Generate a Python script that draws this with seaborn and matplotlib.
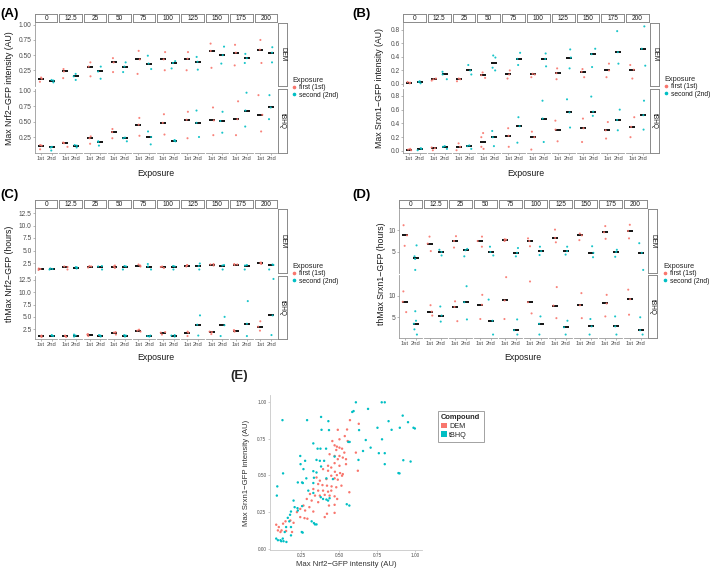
import numpy as np
import pandas as pd
import matplotlib
matplotlib.use("Agg")
import matplotlib.pyplot as plt
import seaborn as sns
from matplotlib.lines import Line2D
from matplotlib.patches import Patch

sns.set_theme(style="white")
plt.rcParams['font.family'] = ['Liberation Sans', 'DejaVu Sans']
np.random.seed(3)

concentrations = ["0", "12.5", "25", "50", "75", "100", "125", "150", "175", "200"]
compounds = ["DEM", "tBHQ"]
exposures = ["1st", "2nd"]
exposure_labels = ["first (1st)", "second (2nd)"]

# ---- Panel A: Max Nrf2-GFP intensity (AU) ----
A_DEM_1st = [[0.13, 0.11, 0.06], [0.27, 0.23, 0.12], [0.38, 0.31, 0.15], [0.45, 0.38, 0.22], [0.57, 0.43, 0.19],
             [0.55, 0.43, 0.25], [0.55, 0.44, 0.25], [0.69, 0.57, 0.29], [0.67, 0.54, 0.33], [0.75, 0.59, 0.37]]
A_DEM_2nd = [[0.09, 0.08, 0.05], [0.19, 0.15, 0.09], [0.31, 0.23, 0.11], [0.38, 0.31, 0.22], [0.49, 0.36, 0.27],
             [0.40, 0.37, 0.28], [0.47, 0.39, 0.26], [0.64, 0.50, 0.36], [0.52, 0.45, 0.37], [0.63, 0.54, 0.38]]
A_tBHQ_1st = [[0.12, 0.11, 0.05], [0.16, 0.15, 0.09], [0.26, 0.23, 0.14], [0.38, 0.33, 0.23], [0.56, 0.45, 0.27],
              [0.62, 0.48, 0.29], [0.66, 0.53, 0.23], [0.73, 0.52, 0.28], [0.83, 0.54, 0.28], [0.93, 0.61, 0.34]]
A_tBHQ_2nd = [[0.09, 0.08, 0.03], [0.12, 0.11, 0.08], [0.18, 0.17, 0.11], [0.24, 0.23, 0.18], [0.34, 0.25, 0.13],
              [0.20, 0.19, 0.18], [0.68, 0.48, 0.25], [0.66, 0.51, 0.32], [0.97, 0.68, 0.42], [0.93, 0.73, 0.54]]

# ---- Panel B: Max Srxn1-GFP intensity (AU) ----
B_DEM_1st = [[0.03, 0.02, 0.01], [0.08, 0.07, 0.05], [0.08, 0.07, 0.04], [0.17, 0.13, 0.09], [0.20, 0.14, 0.08],
             [0.15, 0.14, 0.10], [0.23, 0.16, 0.07], [0.22, 0.18, 0.10], [0.30, 0.20, 0.10], [0.28, 0.21, 0.08]]
B_DEM_2nd = [[0.04, 0.03, 0.01], [0.18, 0.14, 0.07], [0.28, 0.20, 0.14], [0.42, 0.39, 0.24, 0.20], [0.46, 0.37, 0.28],
             [0.45, 0.37, 0.26], [0.51, 0.39, 0.23], [0.52, 0.44, 0.25], [0.78, 0.47, 0.30], [0.85, 0.52, 0.27]]
B_tBHQ_1st = [[0.03, 0.02, 0.01], [0.05, 0.04, 0.01], [0.11, 0.06, 0.01], [0.26, 0.20, 0.06, 0.03], [0.33, 0.22, 0.06],
              [0.28, 0.20, 0.02], [0.44, 0.31, 0.14], [0.47, 0.33, 0.13], [0.42, 0.30, 0.18], [0.49, 0.35, 0.20]]
B_tBHQ_2nd = [[0.04, 0.03, 0.01], [0.07, 0.06, 0.03], [0.08, 0.07, 0.03], [0.29, 0.20, 0.07], [0.49, 0.36, 0.12],
              [0.73, 0.47, 0.13], [0.75, 0.56, 0.34], [0.79, 0.57, 0.51], [0.60, 0.45, 0.30], [0.73, 0.52, 0.31]]

# ---- Panel C: thMax Nrf2-GFP (hours) ----
C_DEM_1st = [[1.4, 1.3, 1.1], [1.8, 1.7, 1.2], [1.9, 1.8, 1.6], [2.0, 1.8, 1.5], [2.2, 2.0, 1.8],
             [1.8, 1.7, 1.5], [2.1, 2.0, 1.8], [2.3, 2.2, 2.0], [2.3, 2.2, 2.1], [2.6, 2.5, 2.3]]
C_DEM_2nd = [[1.4, 1.3, 1.2], [1.7, 1.6, 1.4], [1.9, 1.8, 1.2], [1.9, 1.8, 1.2], [2.3, 1.8, 1.2],
             [1.9, 1.8, 1.2], [2.4, 1.9, 1.2], [2.1, 2.0, 1.2], [2.1, 2.0, 1.2], [2.2, 2.1, 1.2]]
C_tBHQ_1st = [[1.2, 1.1, 0.9], [1.2, 1.1, 0.9], [1.5, 1.4, 1.1], [1.9, 1.8, 1.4], [2.4, 2.2, 2.0],
              [1.9, 1.8, 1.4], [2.0, 1.8, 1.1], [2.0, 1.9, 1.5], [2.3, 2.2, 2.0], [4.1, 3.0, 2.2]]
C_tBHQ_2nd = [[1.3, 1.2, 1.1], [1.4, 1.2, 1.0], [1.3, 1.2, 1.0], [1.3, 1.2, 1.0], [1.2, 1.1, 1.0],
              [1.3, 1.2, 1.0], [5.3, 3.4, 1.2], [5.0, 3.3, 1.1], [8.2, 3.6, 1.1], [12.7, 5.3, 1.3]]

# ---- Panel D: thMax Srxn1-GFP (hours) ----
D_DEM_1st = [[11.1, 8.8, 6.4], [8.5, 6.9, 5.2], [8.6, 7.5, 6.0], [8.5, 7.5, 6.2], [7.9, 7.8, 7.5],
             [8.1, 7.5, 6.3], [10.1, 8.2, 7.2], [9.2, 8.8, 7.7], [10.9, 9.5, 8.0], [11.2, 9.8, 8.1]]
D_DEM_2nd = [[6.5, 4.0, 3.4, 0.9], [5.5, 5.0, 4.2], [5.7, 5.4, 4.0], [6.2, 5.0, 4.2], [5.9, 4.8, 4.0],
             [6.2, 5.2, 4.3], [6.2, 5.2, 4.4], [6.3, 4.8, 3.8], [5.5, 5.0, 3.9], [7.0, 4.8, 0.9]]
D_tBHQ_1st = [[11.0, 8.6, 6.2], [7.8, 6.3, 5.4], [8.7, 7.4, 4.1], [10.2, 7.9, 4.6], [14.3, 8.9, 4.6],
              [13.3, 8.5, 5.9], [12.0, 7.7, 4.8], [10.6, 7.8, 4.8], [10.2, 8.2, 5.2], [11.4, 9.2, 5.6]]
D_tBHQ_2nd = [[6.4, 4.2, 3.5, 2.2, 1.0], [7.5, 5.4, 4.0], [12.2, 8.5, 4.5], [9.1, 4.2, 1.0], [4.5, 2.0, 1.0],
              [5.2, 3.5, 1.0], [4.2, 2.7, 1.0], [4.6, 2.9, 1.0], [5.2, 2.9, 1.0], [5.0, 2.0, 1.0]]

# ---- Panel E: Max Nrf2 vs Max Srxn1 ----
E_DEM_nrf2 = [0.571, 0.629, 0.552, 0.491, 0.537, 0.502, 0.556, 0.455, 0.47, 0.485, 0.502, 0.519, 0.481, 0.534, 0.61,
              0.437, 0.47, 0.502, 0.524, 0.491, 0.545, 0.47, 0.427, 0.448, 0.502, 0.545, 0.394, 0.427, 0.472, 0.506,
              0.524, 0.623, 0.448, 0.485, 0.519, 0.351, 0.373, 0.416, 0.47, 0.491, 0.362, 0.39, 0.42, 0.45, 0.515,
              0.481, 0.33, 0.362, 0.394, 0.427, 0.448, 0.567, 0.308, 0.341, 0.373, 0.405, 0.437, 0.47, 0.487, 0.287,
              0.319, 0.362, 0.433, 0.47, 0.265, 0.304, 0.244, 0.276, 0.33, 0.42, 0.47, 0.222, 0.244, 0.272, 0.291,
              0.405, 0.179, 0.147, 0.20, 0.131, 0.103, 0.121, 0.086, 0.097, 0.114, 0.19, 0.151]
E_DEM_srxn1 = [0.878, 0.853, 0.814, 0.812, 0.769, 0.747, 0.735, 0.735, 0.706, 0.697, 0.69, 0.683, 0.674, 0.656, 0.656,
               0.645, 0.633, 0.633, 0.622, 0.611, 0.611, 0.584, 0.566, 0.554, 0.566, 0.577, 0.543, 0.532, 0.525, 0.516,
               0.509, 0.532, 0.498, 0.502, 0.498, 0.486, 0.464, 0.475, 0.48, 0.471, 0.441, 0.434, 0.43, 0.425, 0.43,
               0.419, 0.407, 0.396, 0.396, 0.389, 0.396, 0.385, 0.373, 0.362, 0.362, 0.367, 0.362, 0.357, 0.339, 0.339,
               0.328, 0.317, 0.294, 0.299, 0.294, 0.283, 0.271, 0.26, 0.253, 0.238, 0.244, 0.249, 0.215, 0.208, 0.204,
               0.215, 0.192, 0.186, 0.176, 0.17, 0.147, 0.124, 0.163, 0.124, 0.113, 0.113, 0.12]
E_tBHQ_nrf2 = [0.61, 0.78, 0.80, 0.69, 0.595, 0.586, 0.127, 0.289, 0.381, 0.429, 0.918, 0.953, 0.825, 0.752, 0.899,
               0.989, 0.998, 0.384, 0.433, 0.631, 0.845, 0.675, 0.782, 0.33, 0.56, 0.569, 0.358, 0.377, 0.414, 0.707,
               0.657, 0.761, 0.80, 0.244, 0.276, 0.351, 0.373, 0.401, 0.47, 0.627, 0.80, 0.922, 0.97, 0.246, 0.265,
               0.33, 0.351, 0.381, 0.334, 0.131, 0.228, 0.256, 0.284, 0.416, 0.459, 0.89, 0.897, 0.093, 0.261, 0.33,
               0.297, 0.33, 0.379, 0.394, 0.416, 0.427, 0.437, 0.09, 0.20, 0.207, 0.226, 0.228, 0.256, 0.55, 0.567,
               0.183, 0.177, 0.162, 0.172, 0.319, 0.334, 0.341, 0.351, 0.151, 0.183, 0.142, 0.254, 0.26, 0.183, 0.086,
               0.097, 0.114, 0.129, 0.153, 0.134, 0.119]
E_tBHQ_srxn1 = [1.00, 1.00, 1.00, 0.955, 0.94, 0.934, 0.878, 0.878, 0.90, 0.871, 0.909, 0.864, 0.871, 0.826, 0.826,
                0.826, 0.821, 0.812, 0.81, 0.81, 0.812, 0.742, 0.747, 0.719, 0.729, 0.729, 0.683, 0.683, 0.683, 0.69,
                0.667, 0.652, 0.652, 0.633, 0.60, 0.606, 0.60, 0.60, 0.629, 0.606, 0.577, 0.604, 0.595, 0.577, 0.543,
                0.529, 0.52, 0.561, 0.484, 0.514, 0.452, 0.452, 0.48, 0.48, 0.475, 0.516, 0.514, 0.425, 0.448, 0.448,
                0.396, 0.38, 0.351, 0.339, 0.335, 0.328, 0.344, 0.362, 0.328, 0.283, 0.276, 0.26, 0.29, 0.303, 0.294,
                0.253, 0.231, 0.21, 0.186, 0.186, 0.174, 0.165, 0.165, 0.147, 0.147, 0.113, 0.113, 0.109, 0.09, 0.068,
                0.057, 0.057, 0.068, 0.045, 0.05, 0.05]

RED = "#F8766D"
TEAL = "#00BFC4"
exp_palette = {"1st": RED, "2nd": TEAL}
comp_palette = {"DEM": RED, "tBHQ": TEAL}
LINE_COL = "#9a9a9a"
TXT_COL = "#4d4d4d"

W, H = 720, 571
fig = plt.figure(figsize=(W / 100, H / 100), dpi=100)
fig.patch.set_facecolor("white")


def rect(x0, y0, x1, y1):
    return [x0 / W, 1 - y1 / H, (x1 - x0) / W, (y1 - y0) / H]


def long_df(groups):
    rows = []
    for (comp, exp), series in groups.items():
        for conc, vals in zip(concentrations, series):
            for v in vals:
                rows.append((conc, comp, exp, v))
    return pd.DataFrame(rows, columns=["conc", "compound", "exposure", "value"])


def strip_box(x0, y0, x1, y1, text, rot=0):
    ax = fig.add_axes(rect(x0, y0, x1, y1))
    ax.set_xticks([])
    ax.set_yticks([])
    ax.set_facecolor("white")
    for s in ax.spines.values():
        s.set_color("#8a8a8a")
        s.set_linewidth(0.7)
    ax.text(0.5, 0.5, text, ha="center", va="center", rotation=rot, fontsize=4.7,
            color="#1a1a1a", transform=ax.transAxes)


def facet_panel(df, x0, x1, rows, strip_y, ylim, yticks, yticklabels, ylabel, ylabel_x,
                xlabel_y, legend_xy, letter, letter_xy):
    n = len(concentrations)
    gap = 2.0
    fw = (x1 - x0 - gap * (n - 1)) / n
    for r, comp in enumerate(compounds):
        ty, by = rows[r]
        for c, conc in enumerate(concentrations):
            fx0 = x0 + c * (fw + gap)
            ax = fig.add_axes(rect(fx0, ty, fx0 + fw, by))
            sub = df[(df.compound == comp) & (df.conc == conc)]
            sns.stripplot(data=sub, x="exposure", y="value", hue="exposure", order=exposures,
                          hue_order=exposures, palette=exp_palette, size=1.5, jitter=0.22,
                          linewidth=0, alpha=0.9, legend=False, ax=ax)
            sns.pointplot(data=sub, x="exposure", y="value", order=exposures, estimator="median",
                          errorbar=None, color="black", marker="_", markersize=5,
                          markeredgewidth=1.3, linestyle="none", ax=ax)
            ax.set_xlim(-0.55, 1.55)
            ax.set_ylim(*ylim)
            ax.set_xlabel("")
            ax.set_ylabel("")
            ax.set_facecolor("white")
            for side in ["top", "right"]:
                ax.spines[side].set_visible(False)
            ax.spines["left"].set_visible(c == 0)
            ax.spines["bottom"].set_visible(r == 1)
            for side in ["left", "bottom"]:
                ax.spines[side].set_color(LINE_COL)
                ax.spines[side].set_linewidth(0.6)
            if c == 0:
                ax.set_yticks(yticks)
                ax.set_yticklabels(yticklabels)
                ax.tick_params(axis="y", length=1.5, width=0.5, pad=1, labelsize=4.8,
                               colors=LINE_COL, labelcolor=TXT_COL, left=True)
            else:
                ax.set_yticks([])
            if r == 1:
                ax.set_xticks([0, 1])
                ax.set_xticklabels(exposures)
                ax.tick_params(axis="x", length=1.5, width=0.5, pad=1, labelsize=4.2,
                               colors=LINE_COL, labelcolor=TXT_COL, bottom=True)
            else:
                ax.set_xticks([])
            if r == 0:
                strip_box(fx0, strip_y[0], fx0 + fw, strip_y[1], conc)
        strip_box(x1 + 1, ty, x1 + 10, by, comp, rot=-90)

    ymid = (rows[0][0] + rows[1][1]) / 2
    fig.text(ylabel_x / W, 1 - ymid / H, ylabel, rotation=90, ha="center", va="center",
             fontsize=6.3, color="#1a1a1a")
    fig.text(((x0 + x1) / 2) / W, 1 - xlabel_y / H, "Exposure", ha="center", va="center",
             fontsize=6.3, color="#1a1a1a")
    fig.text(letter_xy[0] / W, 1 - letter_xy[1] / H, letter, ha="left", va="center",
             fontsize=9.5, fontweight="bold", color="black")
    handles = [Line2D([], [], marker="o", linestyle="", markersize=1.6, color=exp_palette[e],
                      label=lab) for e, lab in zip(exposures, exposure_labels)]
    leg = fig.legend(handles=handles, title="Exposure", loc="upper left",
                     bbox_to_anchor=(legend_xy[0] / W, 1 - legend_xy[1] / H), frameon=False,
                     fontsize=4.9, title_fontsize=5.3, handlelength=0.5, handletextpad=0.5,
                     labelspacing=0.05, borderpad=0, borderaxespad=0, alignment="left")
    for t in leg.get_texts():
        t.set_color("#1a1a1a")


dfA = long_df({("DEM", "1st"): A_DEM_1st, ("DEM", "2nd"): A_DEM_2nd,
               ("tBHQ", "1st"): A_tBHQ_1st, ("tBHQ", "2nd"): A_tBHQ_2nd})
dfB = long_df({("DEM", "1st"): B_DEM_1st, ("DEM", "2nd"): B_DEM_2nd,
               ("tBHQ", "1st"): B_tBHQ_1st, ("tBHQ", "2nd"): B_tBHQ_2nd})
dfC = long_df({("DEM", "1st"): C_DEM_1st, ("DEM", "2nd"): C_DEM_2nd,
               ("tBHQ", "1st"): C_tBHQ_1st, ("tBHQ", "2nd"): C_tBHQ_2nd})
dfD = long_df({("DEM", "1st"): D_DEM_1st, ("DEM", "2nd"): D_DEM_2nd,
               ("tBHQ", "1st"): D_tBHQ_1st, ("tBHQ", "2nd"): D_tBHQ_2nd})

facet_panel(dfA, 35, 277, [(23, 86), (89, 153)], (14, 22), (-0.01, 1.03),
            [0.25, 0.5, 0.75, 1.0], ["0.25", "0.50", "0.75", "1.00"],
            "Max Nrf2\u2212GFP intensity (AU)", 10, 173, (292, 77), "(A)", (0.5, 14))
facet_panel(dfB, 403, 649, [(23, 86), (89, 153)], (14, 22), (-0.03, 0.9),
            [0.0, 0.2, 0.4, 0.6, 0.8], ["0.0", "0.2", "0.4", "0.6", "0.8"],
            "Max Srxn1\u2212GFP intensity (AU)", 379, 173, (664, 76), "(B)", (352, 14))
facet_panel(dfC, 35, 277, [(209, 273), (276, 339)], (200, 208), (0.5, 13.3),
            [2.5, 5.0, 7.5, 10.0, 12.5], ["2.5", "5.0", "7.5", "10.0", "12.5"],
            "thMax Nrf2\u2212GFP (hours)", 10, 358, (292, 263), "(C)", (0.5, 195))
facet_panel(dfD, 399, 647, [(209, 273), (275, 338)], (200, 208), (0.2, 14.8),
            [5, 10], ["5", "10"],
            "thMax Srxn1\u2212GFP (hours)", 382, 358, (663, 263), "(D)", (352, 195))

# ---- Panel E ----
dfE = pd.DataFrame({
    "nrf2": E_DEM_nrf2 + E_tBHQ_nrf2,
    "srxn1": E_DEM_srxn1 + E_tBHQ_srxn1,
    "compound": ["DEM"] * len(E_DEM_nrf2) + ["tBHQ"] * len(E_tBHQ_nrf2),
})
axE = fig.add_axes(rect(270, 395, 422, 550))
sns.scatterplot(data=dfE, x="nrf2", y="srxn1", hue="compound", palette=comp_palette, s=3,
                linewidth=0, legend=False, ax=axE)
axE.set_xlim(0.045, 1.045)
axE.set_ylim(-0.01, 1.05)
axE.set_xticks([0.25, 0.5, 0.75, 1.0])
axE.set_xticklabels(["0.25", "0.50", "0.75", "1.00"])
axE.set_yticks([0.0, 0.25, 0.5, 0.75, 1.0])
axE.set_yticklabels(["0.00", "0.25", "0.50", "0.75", "1.00"])
axE.tick_params(length=1.5, width=0.5, pad=1, labelsize=3.4, colors="#bbbbbb", labelcolor=TXT_COL,
                left=True, bottom=True)
for side in ["top", "right"]:
    axE.spines[side].set_visible(False)
for side in ["left", "bottom"]:
    axE.spines[side].set_color("#c8c8c8")
    axE.spines[side].set_linewidth(0.6)
axE.set_xlabel("Max Nrf2\u2212GFP intensity (AU)", fontsize=5.6, color="#333333", labelpad=2)
axE.set_ylabel("Max Srxn1\u2212GFP intensity (AU)", fontsize=5.6, color="#333333", labelpad=5)
fig.text(230 / W, 1 - 376 / H, "(E)", ha="left", va="center", fontsize=9.5, fontweight="bold")
handlesE = [Patch(facecolor=comp_palette[c], edgecolor="none", label=c) for c in compounds]
legE = fig.legend(handles=handlesE, title="Compound", loc="upper left",
                  bbox_to_anchor=(434 / W, 1 - 407 / H), frameon=True, fontsize=5.2,
                  title_fontsize=5.4, handlelength=0.8, handleheight=0.8, handletextpad=0.3,
                  labelspacing=0.2, borderpad=0.5, alignment="left", fancybox=False)
legE.get_frame().set_edgecolor("#8a8a8a")
legE.get_frame().set_linewidth(0.7)
legE.get_title().set_fontweight("bold")

fig.savefig("out.png", dpi=100, facecolor="white")
